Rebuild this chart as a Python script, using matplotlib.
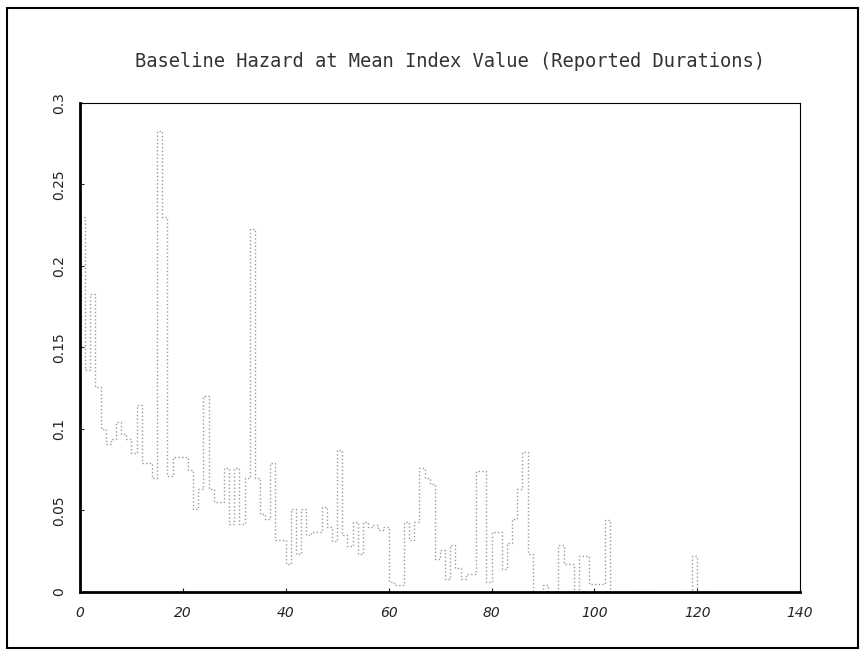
import numpy as np
import matplotlib
matplotlib.use("Agg")
import matplotlib.pyplot as plt
from matplotlib.patches import Rectangle

title = "Baseline Hazard at Mean Index Value (Reported Durations)"

# left edge of each week and the hazard on that week
weeks = list(range(0, 123))
hazard = [
    0.230, 0.136, 0.183, 0.126, 0.100, 0.091, 0.094, 0.104, 0.097, 0.094,
    0.085, 0.115, 0.079, 0.079, 0.070, 0.283, 0.230, 0.071, 0.083, 0.083,
    0.083, 0.075, 0.051, 0.063, 0.120, 0.063, 0.055, 0.055, 0.076, 0.042,
    0.076, 0.042, 0.070, 0.223, 0.070, 0.048, 0.045, 0.079, 0.032, 0.032,
    0.017, 0.051, 0.023, 0.051, 0.035, 0.037, 0.037, 0.052, 0.040, 0.031,
    0.087, 0.035, 0.028, 0.043, 0.023, 0.043, 0.040, 0.041, 0.038, 0.040,
    0.006, 0.004, 0.004, 0.043, 0.032, 0.043, 0.076, 0.070, 0.066, 0.020,
    0.026, 0.008, 0.029, 0.015, 0.008, 0.011, 0.011, 0.074, 0.074, 0.006,
    0.037, 0.037, 0.014, 0.030, 0.045, 0.063, 0.086, 0.023, 0.000, 0.000,
    0.004, 0.000, 0.000, 0.029, 0.017, 0.017, 0.000, 0.022, 0.022, 0.005,
    0.005, 0.005, 0.044, 0.000, 0.000, 0.000, 0.000, 0.000, 0.000, 0.000,
    0.000, 0.000, 0.000, 0.000, 0.000, 0.000, 0.000, 0.000, 0.000, 0.022,
    0.000, 0.000, 0.000,
]
xticks = [0, 20, 40, 60, 80, 100, 120, 140]
yticks = [0, 0.05, 0.1, 0.15, 0.2, 0.25, 0.3]
ytick_labels = ["0", "0.05", "0.1", "0.15", "0.2", "0.25", "0.3"]

fig = plt.figure(figsize=(8.65, 6.59), dpi=100)
ax = fig.add_axes([0.0925, 0.1017, 0.8325, 0.742])

# step plot, extend the last week to its right edge
x = np.append(weeks, weeks[-1] + 1)
y = np.append(hazard, hazard[-1])
ax.step(x, y, where="post", color="#9a9a9a", linestyle=":", linewidth=1.0)

ax.set_xlim(0, 140)
ax.set_ylim(0, 0.3)
ax.set_xticks(xticks)
ax.set_yticks(yticks)
ax.set_yticklabels(ytick_labels, rotation=90, va="center")
ax.tick_params(direction="in", length=3, labelsize=10, colors="#222222", pad=10)
for lbl in ax.get_xticklabels():
    lbl.set_style("italic")

ax.spines["left"].set_linewidth(2)
ax.spines["bottom"].set_linewidth(2)
ax.spines["top"].set_linewidth(0.8)
ax.spines["right"].set_linewidth(0.8)

fig.text(0.52, 0.906, title, ha="center", va="center",
         fontsize=13.5, family="DejaVu Sans Mono", color="#333333")

# border round the whole page
fig.patches.append(Rectangle((0.0081, 0.0167), 0.984, 0.971, transform=fig.transFigure,
                             fill=False, edgecolor="black", linewidth=1.5))

fig.savefig("out.png", dpi=100)
